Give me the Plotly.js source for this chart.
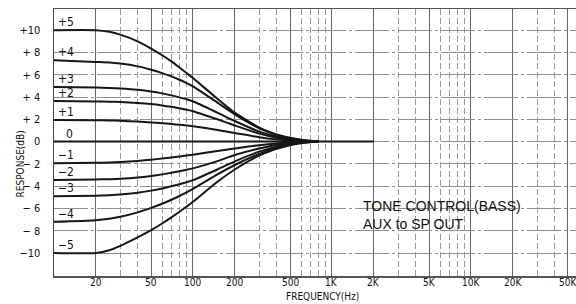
<!DOCTYPE html>
<html>
<head>
<meta charset="utf-8">
<script src="https://cdn.plot.ly/plotly-3.0.1.min.js"></script>
<style>
html,body{margin:0;padding:0;background:#fff;}
#chart{width:576px;height:304px;}
</style>
</head>
<body>
<div id="chart"></div>
<script>
// ---- data ----
const freq = [10, 20, 25, 30, 40, 50, 60, 70, 80, 90, 100, 150, 200, 300, 400, 500, 600, 700, 800];
const zeroFreq = [10, 2000];
const zeroResp = [0, 0];
const p5 = [10.0, 10.0, 9.85, 9.6, 9.0, 8.35, 7.75, 7.2, 6.65, 6.15, 5.7, 3.85, 2.6, 1.25, 0.65, 0.35, 0.17, 0.07, 0];
const p4 = [7.3, 7.15, 7.1, 7.0, 6.75, 6.45, 6.15, 5.85, 5.55, 5.25, 4.95, 3.5, 2.45, 1.2, 0.6, 0.3, 0.14, 0.05, 0];
const p3 = [4.9, 4.85, 4.82, 4.77, 4.65, 4.5, 4.33, 4.15, 3.97, 3.8, 3.62, 2.6, 1.85, 0.9, 0.45, 0.22, 0.1, 0.04, 0];
const p2 = [3.65, 3.6, 3.58, 3.55, 3.47, 3.37, 3.25, 3.12, 2.99, 2.86, 2.73, 2.0, 1.45, 0.72, 0.35, 0.17, 0.08, 0.03, 0];
const p1 = [1.95, 1.92, 1.9, 1.87, 1.8, 1.72, 1.65, 1.58, 1.51, 1.45, 1.38, 1.05, 0.78, 0.4, 0.2, 0.09, 0.04, 0.01, 0];
const m1 = [-1.95, -1.9, -1.87, -1.83, -1.73, -1.62, -1.52, -1.42, -1.33, -1.25, -1.17, -0.85, -0.62, -0.32, -0.16, -0.08, -0.03, -0.01, 0];
const m2 = [-3.45, -3.4, -3.37, -3.33, -3.22, -3.08, -2.94, -2.8, -2.66, -2.53, -2.4, -1.75, -1.2, -0.62, -0.3, -0.14, -0.06, -0.02, 0];
const m3 = [-4.9, -4.85, -4.81, -4.75, -4.58, -4.4, -4.2, -4.0, -3.82, -3.64, -3.46, -2.5, -1.78, -0.9, -0.45, -0.2, -0.08, -0.02, 0];
const m4 = [-7.2, -7.05, -6.92, -6.75, -6.35, -5.95, -5.58, -5.22, -4.88, -4.56, -4.25, -2.95, -2.1, -1.1, -0.55, -0.25, -0.1, -0.03, 0];
const m5 = [-10.0, -10.0, -9.75, -9.35, -8.6, -7.95, -7.35, -6.8, -6.3, -5.82, -5.4, -3.6, -2.5, -1.25, -0.65, -0.32, -0.15, -0.05, 0];

const curveNames = ["+5", "+4", "+3", "+2", "+1", "−1", "−2", "−3", "−4", "−5"];
const curveSeries = [p5, p4, p3, p2, p1, m1, m2, m3, m4, m5];
const zeroName = "0";

const xTickVals = [20, 50, 100, 200, 500, 1000, 2000, 5000, 10000, 20000, 50000];
const xTickText = ["20", "50", "100", "200", "500", "1K", "2K", "5K", "10K", "20K", "50K"];
const xMinorVals = [30, 40, 60, 70, 80, 90, 300, 400, 600, 700, 800, 900,
                    3000, 4000, 6000, 7000, 8000, 9000, 30000, 40000];
const yTickVals = [10, 8, 6, 4, 2, 0, -2, -4, -6, -8, -10];
const yTickText = ["+10", "+ 8", "+ 6", "+ 4", "+ 2", "0", "− 2", "− 4", "− 6", "− 8", "−10"];

const titleText = "TONE CONTROL(BASS)<br>AUX to SP OUT";
const xTitle = "FREQUENCY(Hz)";
const yTitle = "RESPONSE(dB)";

// ---- traces ----
const lineStyle = {color: "#161616", width: 2, shape: "spline", smoothing: 0.6};
const traces = curveSeries.map((ys, i) => ({
  type: "scatter", mode: "lines", x: freq, y: ys, name: curveNames[i],
  line: lineStyle, hoverinfo: "skip"
}));
traces.push({type: "scatter", mode: "lines", x: zeroFreq, y: zeroResp, name: zeroName,
  line: {color: "#161616", width: 2}, hoverinfo: "skip"});

const condensed = "DejaVu Sans Condensed, Liberation Sans Narrow, Arial Narrow, sans-serif";

const annotations = curveSeries.map((ys, i) => ({
  x: Math.log10(freq[0]), y: ys[0], xref: "x", yref: "y",
  text: curveNames[i], showarrow: false, xanchor: "left", yanchor: "middle",
  xshift: 2, yshift: 8, font: {family: condensed, size: 12, color: "#111"}
}));
annotations.push({
  x: Math.log10(zeroFreq[0]), y: zeroResp[0], xref: "x", yref: "y",
  text: zeroName, showarrow: false, xanchor: "left", yanchor: "middle",
  xshift: 10, yshift: 8, font: {family: condensed, size: 12, color: "#111"}
});
// x tick labels (drawn at the axis scale positions)
xTickVals.forEach((v, i) => annotations.push({
  x: Math.log10(v), y: -0.026, xref: "x", yref: "paper", text: xTickText[i],
  showarrow: false, xanchor: "center", yanchor: "middle",
  font: {family: condensed, size: 10, color: "#111"}
}));
annotations.push({
  x: 0.588, y: 0.227, xref: "paper", yref: "paper", text: titleText, align: "left",
  showarrow: false, xanchor: "left", yanchor: "middle",
  font: {family: "Liberation Sans, Arial, sans-serif", size: 14, color: "#111"}
});
annotations.push({
  x: 0.515, y: -0.078, xref: "paper", yref: "paper", text: xTitle,
  showarrow: false, xanchor: "center", yanchor: "middle",
  font: {family: condensed, size: 10, color: "#111"}
});
annotations.push({
  x: -0.064, y: 0.42, xref: "paper", yref: "paper", text: yTitle, textangle: -90,
  showarrow: false, xanchor: "center", yanchor: "middle",
  font: {family: condensed, size: 10, color: "#111"}
});

const layout = {
  width: 576, height: 304,
  margin: {l: 54, r: 0, t: 9, b: 28},
  paper_bgcolor: "#fff", plot_bgcolor: "#fff",
  showlegend: false,
  xaxis: {
    type: "log", range: [1, 4.757], fixedrange: true,
    tickmode: "array", tickvals: xTickVals, ticktext: xTickText,
    ticks: "", showticklabels: false,
    showgrid: true, gridcolor: "#666", gridwidth: 1,
    minor: {tickmode: "array", tickvals: xMinorVals, showgrid: true,
            gridcolor: "#9c9c9c", gridwidth: 1, griddash: "6px,3px", ticks: ""},
    showline: true, linecolor: "#555", linewidth: 1.5, mirror: true,
    zeroline: false
  },
  yaxis: {
    range: [-12.06, 11.9], fixedrange: true,
    tickmode: "array", tickvals: yTickVals, ticktext: yTickText,
    ticks: "", ticklabelstandoff: 10,
    tickfont: {family: condensed, size: 11, color: "#111"},
    showgrid: true, gridcolor: "#8f8f8f", gridwidth: 1, griddash: "34px,3px,3px,3px",
    showline: true, linecolor: "#444", linewidth: 1.5, mirror: false,
    zeroline: false
  },
  annotations: annotations
};

Plotly.newPlot("chart", traces, layout, {staticPlot: true, displayModeBar: false});
</script>
</body>
</html>
